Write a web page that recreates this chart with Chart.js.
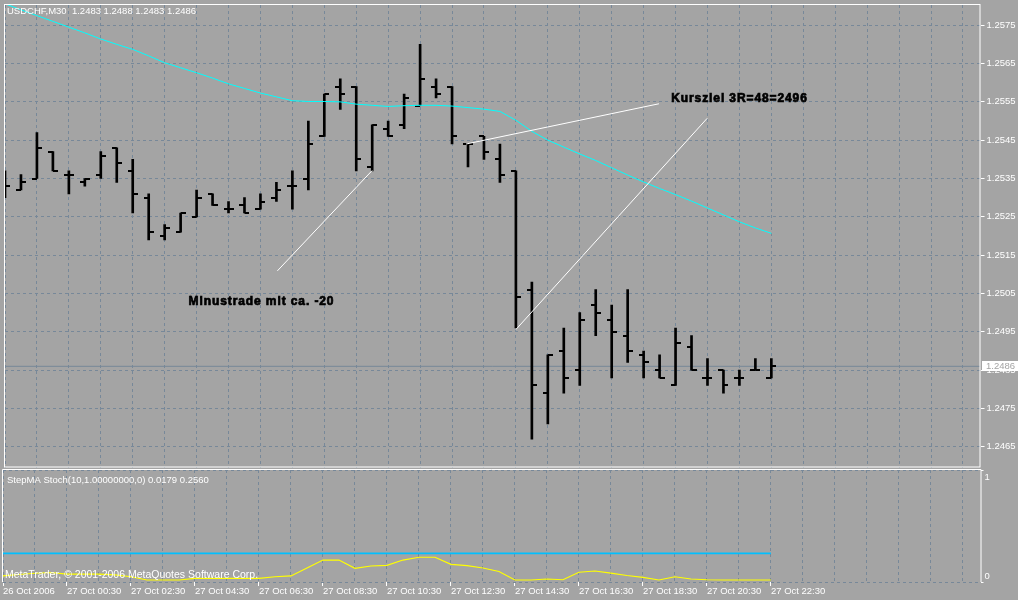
<!DOCTYPE html>
<html>
<head>
<meta charset="utf-8">
<script src="https://cdn.jsdelivr.net/npm/chart.js@4/dist/chart.umd.min.js"></script>
<style>
html,body{margin:0;padding:0;background:#a4a4a4;overflow:hidden;}
#wrap{position:relative;width:1018px;height:600px;background:#a4a4a4;}
#wrap canvas{position:absolute;left:0;top:0;}
</style>
</head>
<body>
<div id="wrap">
<canvas id="main" width="1018" height="600"></canvas>
<canvas id="sub" width="1018" height="600"></canvas>
</div>
<script>
// ---------------- data ----------------
const symbolTitle = "USDCHF,M30";
const barTimes = ["26 Oct 22:30","26 Oct 23:00","26 Oct 23:30","27 Oct 00:00","27 Oct 00:30","27 Oct 01:00","27 Oct 01:30","27 Oct 02:00","27 Oct 02:30","27 Oct 03:00","27 Oct 03:30","27 Oct 04:00","27 Oct 04:30","27 Oct 05:00","27 Oct 05:30","27 Oct 06:00","27 Oct 06:30","27 Oct 07:00","27 Oct 07:30","27 Oct 08:00","27 Oct 08:30","27 Oct 09:00","27 Oct 09:30","27 Oct 10:00","27 Oct 10:30","27 Oct 11:00","27 Oct 11:30","27 Oct 12:00","27 Oct 12:30","27 Oct 13:00","27 Oct 13:30","27 Oct 14:00","27 Oct 14:30","27 Oct 15:00","27 Oct 15:30","27 Oct 16:00","27 Oct 16:30","27 Oct 17:00","27 Oct 17:30","27 Oct 18:00","27 Oct 18:30","27 Oct 19:00","27 Oct 19:30","27 Oct 20:00","27 Oct 20:30","27 Oct 21:00","27 Oct 21:30","27 Oct 22:00","27 Oct 22:30"];
const openP  = [1.2534,1.2532,1.2535,1.2542,1.2536,1.2534,1.2536,1.2543,1.2537,1.2530,1.2520,1.2521,1.2525,1.2531,1.2527,1.2528,1.2527,1.2530,1.2533,1.2535,1.2546,1.2559,1.2559,1.2538,1.2548,1.2549,1.2554,1.2559,1.2559,1.2544,1.2546,1.2540,1.2537,1.2506,1.2479,1.2490,1.2485,1.2502,1.2498,1.2494,1.2489,1.2485,1.2481,1.2491,1.2483,1.2485,1.2483,1.2485,1.2483];
const highP  = [1.2537,1.2536,1.2547,1.2542,1.2537,1.2535,1.2542,1.2543,1.2540,1.2531,1.2523,1.2526,1.2532,1.2531,1.2529,1.2530,1.2531,1.2534,1.2537,1.2550,1.2557,1.2561,1.2559,1.2549,1.2550,1.2557,1.2570,1.2561,1.2559,1.2544,1.2546,1.2544,1.2537,1.2508,1.2489,1.2496,1.2500,1.2506,1.2502,1.2506,1.2490,1.2489,1.2496,1.2494,1.2488,1.2485,1.2485,1.2488,1.2488];
const lowP   = [1.2530,1.2532,1.2535,1.2537,1.2531,1.2533,1.2535,1.2534,1.2526,1.2519,1.2519,1.2521,1.2525,1.2528,1.2526,1.2526,1.2527,1.2529,1.2527,1.2532,1.2546,1.2553,1.2537,1.2537,1.2546,1.2548,1.2554,1.2556,1.2544,1.2538,1.2540,1.2534,1.2496,1.2467,1.2471,1.2479,1.2481,1.2494,1.2483,1.2487,1.2483,1.2483,1.2481,1.2485,1.2481,1.2479,1.2481,1.2485,1.2483];
const closeP = [1.2533,1.2534,1.2543,1.2537,1.2536,1.2535,1.2541,1.2539,1.2531,1.2521,1.2522,1.2526,1.2530,1.2528,1.2527,1.2526,1.2529,1.2532,1.2533,1.2544,1.2557,1.2557,1.2540,1.2549,1.2546,1.2556,1.2561,1.2557,1.2546,1.2544,1.2542,1.2536,1.2504,1.2481,1.2489,1.2483,1.2498,1.2500,1.2495,1.2490,1.2487,1.2483,1.2492,1.2485,1.2483,1.2481,1.2483,1.2485,1.2486];
const maLine = [1.25806,1.25790,1.25775,1.25760,1.25745,1.25730,1.25714,1.25700,1.25687,1.25670,1.25652,1.25639,1.25626,1.25612,1.25597,1.25585,1.25573,1.25563,1.25553,1.25551,1.25551,1.25550,1.25544,1.25541,1.25538,1.25540,1.25541,1.25541,1.25539,1.25535,1.25531,1.25525,1.25502,1.25473,1.25450,1.25432,1.25414,1.25397,1.25378,1.25359,1.25341,1.25324,1.25308,1.25291,1.25273,1.25255,1.25237,1.25221,1.25207];
const priceTicks = [1.2465,1.2475,1.2485,1.2495,1.2505,1.2515,1.2525,1.2535,1.2545,1.2555,1.2565,1.2575];
const priceRange = [1.24596, 1.258027];
const barSlots = 61.1;
const xTickLabels = ["26 Oct 2006","27 Oct 00:30","27 Oct 02:30","27 Oct 04:30","27 Oct 06:30","27 Oct 08:30","27 Oct 10:30","27 Oct 12:30","27 Oct 14:30","27 Oct 16:30","27 Oct 18:30","27 Oct 20:30","27 Oct 22:30"];
const stochMain = [0.054,0.067,0.078,0.085,0.071,0.071,0.071,0.063,0.047,0.018,0.018,0.018,0.033,0.033,0.033,0.033,0.033,0.047,0.054,0.125,0.196,0.196,0.122,0.143,0.149,0.196,0.221,0.221,0.158,0.147,0.125,0.094,0.018,0.018,0.027,0.020,0.087,0.098,0.080,0.058,0.042,0.018,0.047,0.027,0.020,0.018,0.018,0.018,0.0179];
const stochLevel = [0.256,0.256,0.256,0.256,0.256,0.256,0.256,0.256,0.256,0.256,0.256,0.256,0.256,0.256,0.256,0.256,0.256,0.256,0.256,0.256,0.256,0.256,0.256,0.256,0.256,0.256,0.256,0.256,0.256,0.256,0.256,0.256,0.256,0.256,0.256,0.256,0.256,0.256,0.256,0.256,0.256,0.256,0.256,0.256,0.256,0.256,0.256,0.256,0.256];
const stochTicks = [0, 1];
const indicatorTitle = "StepMA Stoch(10,1.00000000,0)";
const copyrightText = "MetaTrader, \u00A9 2001-2006 MetaQuotes Software Corp.";
// hand-drawn objects (bar index, price)
const lineLossX = [17.06, 23.0],  lineLossY = [1.25109, 1.25371];
const lineTargetX = [28.88, 40.96], lineTargetY = [1.25440, 1.25545];
const lineMoveX = [32.0, 43.98],  lineMoveY = [1.24956, 1.25507];
const noteTexts = ["Minustrade mit ca. -20", "Kursziel 3R=48=2496"];
const noteX = [11.5, 41.73];
const noteY = [1.25029, 1.25558];

// ---------------- styles ----------------
const FONT = '"Liberation Sans", Arial, sans-serif';
const GRID = '#778899';
const AXIS_W = 37.5;

function tickImg(side) {
  const c = document.createElement('canvas');
  c.width = 10; c.height = 2;
  const g = c.getContext('2d');
  g.fillStyle = '#000';
  if (side === 'left') g.fillRect(0, 0, 5, 2); else g.fillRect(5, 0, 5, 2);
  return c;
}
const openTick = tickImg('left');
const closeTick = tickImg('right');

const idx = barTimes.map((t, i) => i);
const hlData = idx.map(i => ({x: i, y: [lowP[i], highP[i]]}));
const openData = idx.map(i => ({x: i, y: openP[i]}));
const closeData = idx.map(i => ({x: i, y: closeP[i]}));
const maData = idx.map(i => ({x: i, y: maLine[i]}));
const lastClose = closeP[closeP.length - 1];
const priceLineData = [{x: 0, y: lastClose}, {x: barSlots, y: lastClose}];
const mkLine = (xs, ys) => xs.map((x, i) => ({x: x, y: ys[i]}));
const gridIdx = [];
for (let v = 0; v <= barSlots; v += 2) gridIdx.push(v);

const mainDecor = {
  id: 'mainDecor',
  afterDraw(chart) {
    const {ctx, chartArea: a} = chart;
    const xs = chart.scales.x, ys = chart.scales.y;
    ctx.save();
    ctx.strokeStyle = '#ffffff';
    ctx.lineWidth = 1;
    ctx.strokeRect(a.left - 0.5, a.top - 0.5, a.right - a.left, a.bottom - a.top);
    // header
    const n = closeP.length - 1;
    ctx.fillStyle = '#ffffff';
    ctx.font = '9.5px ' + FONT;
    ctx.textBaseline = 'middle';
    ctx.textAlign = 'left';
    ctx.fillText(symbolTitle + '  ' + openP[n].toFixed(4) + ' ' + highP[n].toFixed(4) + ' ' + lowP[n].toFixed(4) + ' ' + closeP[n].toFixed(4), 7, 11);
    // notes
    ctx.font = 'bold 12px ' + FONT;
    ctx.letterSpacing = '0.9px';
    ctx.fillStyle = '#000';
    ctx.strokeStyle = '#000';
    ctx.lineWidth = 0.7;
    noteTexts.forEach((t, i) => {
      const px = xs.getPixelForValue(noteX[i]);
      const py = ys.getPixelForValue(noteY[i]);
      ctx.fillText(t, px, py);
      ctx.strokeText(t, px, py);
    });
    ctx.letterSpacing = '0px';
    // current price box
    const py = ys.getPixelForValue(lastClose);
    ctx.fillStyle = '#ffffff';
    ctx.fillRect(982, Math.round(py) - 5, 36, 10);
    ctx.fillStyle = '#a4a4a4';
    ctx.font = '9.5px ' + FONT;
    ctx.fillText(lastClose.toFixed(4), 986, py + 0.5);
    ctx.restore();
  }
};

new Chart(document.getElementById('main'), {
  type: 'bar',
  data: {
    datasets: [
      {type: 'line', data: priceLineData, borderColor: GRID, borderWidth: 1, pointRadius: 0, order: 10},
      {type: 'bar', data: hlData, backgroundColor: '#000000', borderWidth: 0, barThickness: 2, grouped: false, order: 5},
      {type: 'line', data: openData, showLine: false, pointStyle: openTick, pointRadius: 3, order: 4},
      {type: 'line', data: closeData, showLine: false, pointStyle: closeTick, pointRadius: 3, order: 4},
      {type: 'line', data: maData, borderColor: '#00ffff', borderWidth: 1, pointRadius: 0, tension: 0, order: 2},
      {type: 'line', data: mkLine(lineLossX, lineLossY), borderColor: '#ffffff', borderWidth: 1, pointRadius: 0, order: 1},
      {type: 'line', data: mkLine(lineTargetX, lineTargetY), borderColor: '#ffffff', borderWidth: 1, pointRadius: 0, order: 1},
      {type: 'line', data: mkLine(lineMoveX, lineMoveY), borderColor: '#ffffff', borderWidth: 1, pointRadius: 0, order: 1}
    ]
  },
  options: {
    responsive: false,
    animation: false,
    events: [],
    layout: {padding: {left: 3, top: 3, right: 0, bottom: 132.5}},
    plugins: {legend: {display: false}, tooltip: {enabled: false}},
    scales: {
      x: {
        type: 'linear', min: 0, max: barSlots, offset: false,
        afterBuildTicks: s => { s.ticks = gridIdx.map(v => ({value: v})); },
        ticks: {display: false},
        grid: {color: GRID, lineWidth: 1, drawTicks: false, offset: false},
        border: {display: false, dash: [3, 3]},
        afterFit: s => { s.height = 0; s.paddingLeft = 0; s.paddingRight = 0; }
      },
      y: {
        position: 'right', min: priceRange[0], max: priceRange[1],
        afterBuildTicks: s => { s.ticks = priceTicks.map(v => ({value: v})); },
        ticks: {color: '#ffffff', font: {family: FONT, size: 9.5}, padding: 2, callback: v => Number(v).toFixed(4)},
        grid: {color: GRID, lineWidth: 1, drawTicks: true, tickLength: 4, tickColor: '#ffffff'},
        border: {display: false, dash: [3, 3]},
        afterFit: s => { s.width = AXIS_W; s.paddingTop = 0; s.paddingBottom = 0; }
      }
    }
  },
  plugins: [mainDecor]
});

// ---------------- indicator panel ----------------
const subDecor = {
  id: 'subDecor',
  afterDraw(chart) {
    const {ctx, chartArea: a} = chart;
    const ys = chart.scales.y;
    ctx.save();
    ctx.strokeStyle = '#ffffff';
    ctx.lineWidth = 1;
    ctx.beginPath();
    ctx.moveTo(a.left - 0.5, a.bottom);
    ctx.lineTo(a.left - 0.5, a.top - 0.5);
    ctx.lineTo(a.right + 0.5, a.top - 0.5);
    ctx.lineTo(a.right + 0.5, a.bottom);
    ctx.stroke();
    ctx.fillStyle = '#ffffff';
    ctx.font = '9.5px ' + FONT;
    ctx.textBaseline = 'middle';
    ctx.textAlign = 'left';
    const n = stochMain.length - 1;
    ctx.fillText(indicatorTitle + ' ' + stochMain[n].toFixed(4) + ' ' + stochLevel[n].toFixed(4), 7, a.top + 10);
    ctx.font = '10.5px ' + FONT;
    ctx.fillText(copyrightText, 5, a.bottom - 7);
    ctx.font = '9.5px ' + FONT;
    // right scale labels
    ctx.fillText(String(stochTicks[1]), 984.5, ys.getPixelForValue(stochTicks[1]) + 7);
    ctx.fillText(String(stochTicks[0]), 984.5, ys.getPixelForValue(stochTicks[0]) - 5.5);
    ctx.restore();
  }
};

new Chart(document.getElementById('sub'), {
  type: 'line',
  data: {
    datasets: [
      {data: idx.map(i => ({x: i, y: stochLevel[i]})), borderColor: '#00bfff', borderWidth: 1.6, pointRadius: 0, order: 2},
      {data: idx.map(i => ({x: i, y: stochMain[i]})), borderColor: '#ffff00', borderWidth: 1.2, pointRadius: 0, tension: 0, order: 1}
    ]
  },
  options: {
    responsive: false,
    animation: false,
    events: [],
    layout: {padding: {left: 3, top: 470, right: 0, bottom: 0}},
    plugins: {legend: {display: false}, tooltip: {enabled: false}},
    scales: {
      x: {
        type: 'linear', min: 0, max: barSlots, offset: false,
        afterBuildTicks: s => { s.ticks = gridIdx.map(v => ({value: v})); },
        ticks: {
          color: '#ffffff', font: {family: FONT, size: 9.5}, align: 'start', autoSkip: false,
          maxRotation: 0, minRotation: 0, padding: 0, labelOffset: 0,
          callback: v => (v % 4 === 0 && v / 4 < xTickLabels.length) ? xTickLabels[v / 4] : ''
        },
        grid: {
          color: GRID, lineWidth: 1, drawTicks: true, tickLength: 4, offset: false,
          tickColor: c => (c.tick && c.tick.value % 4 === 0 && c.tick.value / 4 < xTickLabels.length) ? '#ffffff' : 'rgba(0,0,0,0)'
        },
        border: {display: false, dash: [3, 3]},
        afterFit: s => { s.height = 18; s.paddingLeft = 0; s.paddingRight = 0; }
      },
      y: {
        position: 'right', min: 0, max: 1,
        afterBuildTicks: s => { s.ticks = stochTicks.map(v => ({value: v})); },
        ticks: {display: false},
        grid: {color: GRID, lineWidth: 1, drawTicks: true, tickLength: 3, tickColor: '#ffffff'},
        border: {display: false, dash: [3, 3]},
        afterFit: s => { s.width = AXIS_W; s.paddingTop = 0; s.paddingBottom = 0; }
      }
    }
  },
  plugins: [subDecor]
});
</script>
</body>
</html>
